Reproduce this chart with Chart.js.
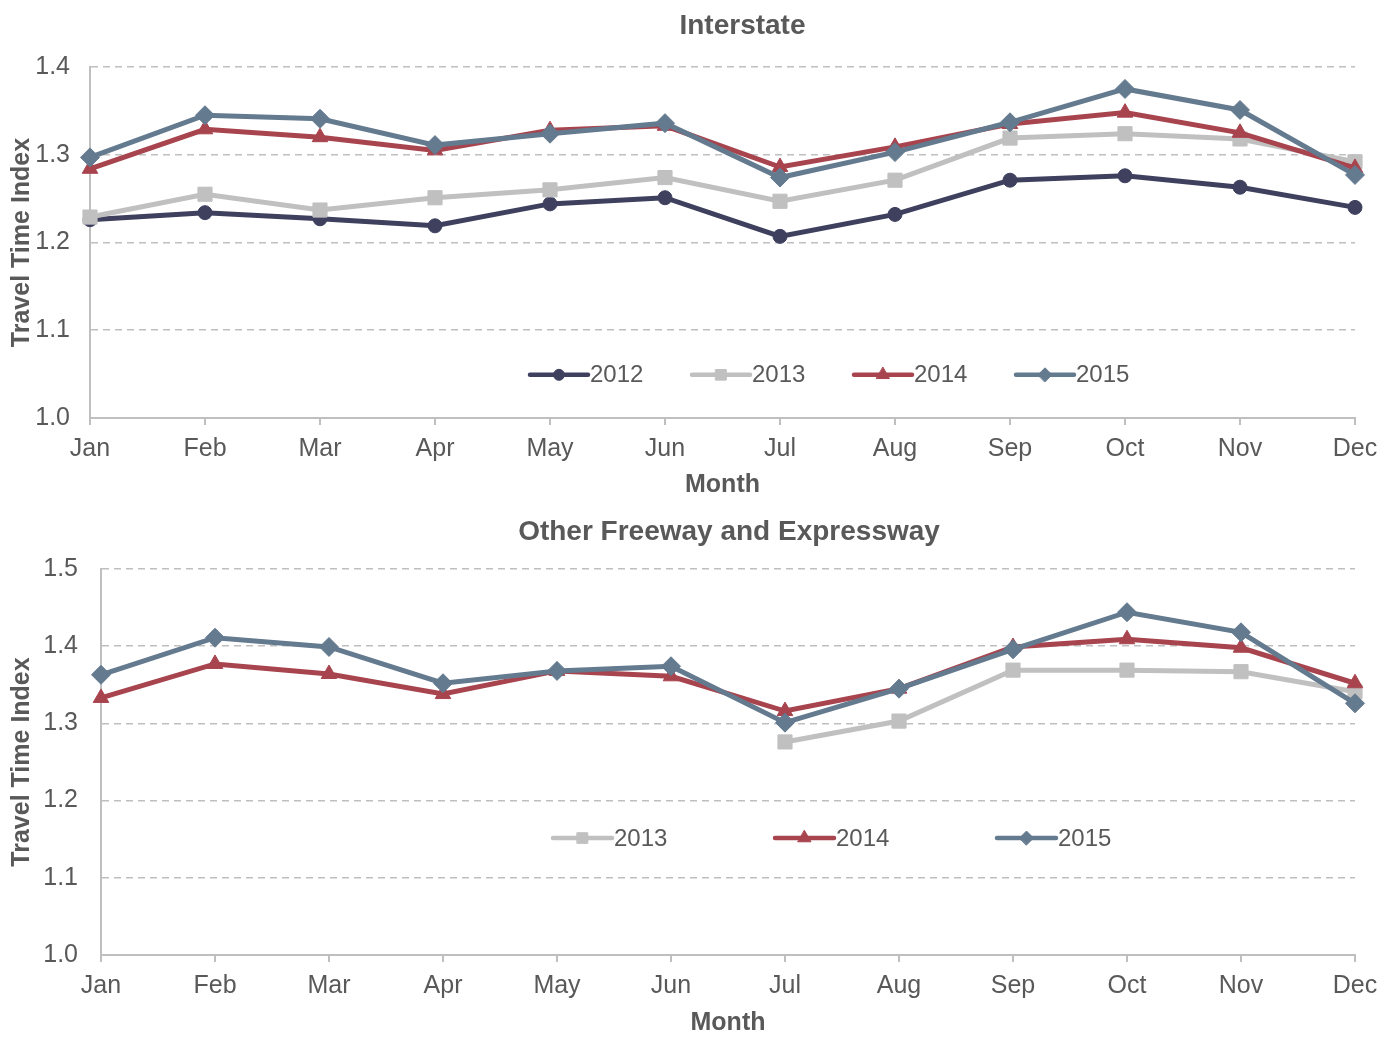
<!DOCTYPE html>
<html><head><meta charset="utf-8">
<script src="https://cdn.jsdelivr.net/npm/chart.js@4.4.0/dist/chart.umd.min.js"></script>
<style>
html,body{margin:0;padding:0;background:#fff;}
#wrap{position:relative;width:1398px;height:1046px;overflow:hidden;}
.box{position:absolute;left:0;width:1398px;}
canvas{display:block;}
</style></head><body>
<div id="wrap">
<div class="box" style="top:0;height:505px"><canvas id="c1" width="1398" height="505"></canvas></div>
<div class="box" style="top:505px;height:541px"><canvas id="c2" width="1398" height="541"></canvas></div>
</div>
<script>
// ---- Data ----
const months = ['Jan','Feb','Mar','Apr','May','Jun','Jul','Aug','Sep','Oct','Nov','Dec'];

const interstate2012 = [1.226,1.234,1.227,1.219,1.244,1.251,1.207,1.232,1.271,1.276,1.263,1.240];
const interstate2013 = [1.229,1.255,1.237,1.251,1.260,1.274,1.247,1.271,1.319,1.324,1.318,1.292];
const interstate2014 = [1.284,1.329,1.320,1.305,1.328,1.333,1.286,1.309,1.335,1.348,1.325,1.285];
const interstate2015 = [1.297,1.345,1.341,1.311,1.324,1.336,1.274,1.303,1.337,1.375,1.351,1.277];

const freeway2013 = [null,null,null,null,null,null,1.276,1.303,1.369,1.369,1.367,1.341];
const freeway2014 = [1.333,1.377,1.364,1.338,1.368,1.361,1.316,1.345,1.399,1.409,1.398,1.352];
const freeway2015 = [1.363,1.411,1.399,1.352,1.368,1.374,1.301,1.345,1.396,1.444,1.418,1.326];

const interstateTicks = [1.0,1.1,1.2,1.3,1.4];
const freewayTicks = [1.0,1.1,1.2,1.3,1.4,1.5];

// ---- Styles ----
const FONT = "'Liberation Sans', Arial, Helvetica, sans-serif";
const TXT = '#595959';
const GRID = '#bfbfbf';
const styles = {
  '2012': {color:'#3e405e', point:'circle',   radius:7,   lr:5.5, order:3},
  '2013': {color:'#c0c0c0', point:'rect',     radius:10,  lr:7.5, order:2},
  '2014': {color:'#a8444e', point:'triangle', radius:9,   lr:7.5, order:1},
  '2015': {color:'#647a8f', point:'rectRot',  radius:9.5, lr:7,   order:0}
};

function ds(label, data){
  const s = styles[label];
  return {
    label, data,
    borderColor:s.color, backgroundColor:s.color,
    pointBackgroundColor:s.color, pointBorderColor:s.color,
    pointStyle:s.point, pointRadius:s.radius, pointBorderWidth:1,
    legendRadius:s.lr,
    borderWidth:5, tension:0, clip:false, order:s.order, spanGaps:false
  };
}

const titlePlugin = {
  id:'customTitle',
  afterDraw(chart, args, opts){
    const ctx = chart.ctx;
    ctx.save();
    ctx.font = 'bold 28px ' + FONT;
    ctx.fillStyle = TXT;
    ctx.textAlign = 'center';
    ctx.textBaseline = 'middle';
    const ca = chart.chartArea;
    ctx.fillText(opts.text, (ca.left+ca.right)/2 + opts.dx, opts.y);
    ctx.restore();
  }
};

const legendPlugin = {
  id:'customLegend',
  afterDatasetsDraw(chart, args, opts){
    const ctx = chart.ctx;
    const ca = chart.chartArea;
    const y = ca.top + opts.yFrac*(ca.bottom-ca.top);
    chart.data.datasets.forEach((d,i)=>{
      const x0 = ca.left + opts.startX + i*opts.spacing;
      ctx.save();
      ctx.strokeStyle = d.borderColor;
      ctx.lineWidth = 4.5;
      ctx.lineCap = 'round';
      ctx.beginPath(); ctx.moveTo(x0,y); ctx.lineTo(x0+opts.lineLen,y); ctx.stroke();
      ctx.fillStyle = d.backgroundColor;
      ctx.lineWidth = 1;
      Chart.helpers.drawPoint(ctx, {pointStyle:d.pointStyle, radius:d.legendRadius, borderWidth:1, rotation:0}, x0+opts.lineLen/2, y);
      ctx.font = '24px ' + FONT;
      ctx.fillStyle = TXT;
      ctx.textAlign = 'left';
      ctx.textBaseline = 'middle';
      ctx.fillText(d.label, x0+opts.lineLen+2, y+1);
      ctx.restore();
    });
  }
};

function makeChart(id, datasets, ticks, cfg){
  return new Chart(document.getElementById(id), {
    type:'line',
    data:{labels:months, datasets},
    plugins:[titlePlugin, legendPlugin],
    options:{
      responsive:false, animation:false, devicePixelRatio:1,
      layout:{padding:{left:0,right:43,top:cfg.padTop,bottom:0}},
      plugins:{
        legend:{display:false}, tooltip:{enabled:false},
        customTitle:{text:cfg.title, dx:cfg.titleDx, y:cfg.titleY},
        customLegend:cfg.legend
      },
      scales:{
        x:{
          type:'category', offset:false,
          grid:{display:true, drawOnChartArea:false, drawTicks:true, tickLength:7, color:GRID, lineWidth:2},
          border:{display:true, color:GRID, width:2},
          ticks:{color:TXT, font:{family:FONT, size:25}, padding:9, maxRotation:0, autoSkip:false},
          title:{display:true, text:'Month', color:TXT, font:{family:FONT, size:25, weight:'bold'}, padding:{top:0,bottom:cfg.xTitlePad}},
          afterFit(s){ s.height = cfg.xHeight; }
        },
        y:{
          min:ticks[0], max:ticks[ticks.length-1],
          afterBuildTicks(s){ s.ticks = ticks.map(v=>({value:v})); },
          grid:{display:true, drawTicks:false, color:GRID, lineWidth:1.5},
          border:{display:true, color:GRID, width:2, dash:[7,5]},
          ticks:{color:TXT, font:{family:FONT, size:25}, padding:cfg.yTickPad, callback:v=>Number(v).toFixed(1)},
          title:{display:true, text:'Travel Time Index', color:TXT, font:{family:FONT, size:25, weight:'bold'}, padding:{top:7,bottom:0}},
          afterFit(s){ s.width = cfg.yWidth; }
        }
      }
    }
  });
}

makeChart('c1', [
  ds('2012', interstate2012), ds('2013', interstate2013),
  ds('2014', interstate2014), ds('2015', interstate2015)
], interstateTicks, {
  title:'Interstate', titleDx:20, titleY:26, padTop:67, xHeight:87, xTitlePad:5,
  yWidth:90, yTickPad:20,
  legend:{yFrac:0.877, startX:440, spacing:162, lineLen:58}
});

makeChart('c2', [
  ds('2013', freeway2013), ds('2014', freeway2014), ds('2015', freeway2015)
], freewayTicks, {
  title:'Other Freeway and Expressway', titleDx:1, titleY:27, padTop:64, xHeight:91, xTitlePad:8,
  yWidth:101, yTickPad:23,
  legend:{yFrac:0.697, startX:452, spacing:222, lineLen:59}
});
</script>
</body></html>
